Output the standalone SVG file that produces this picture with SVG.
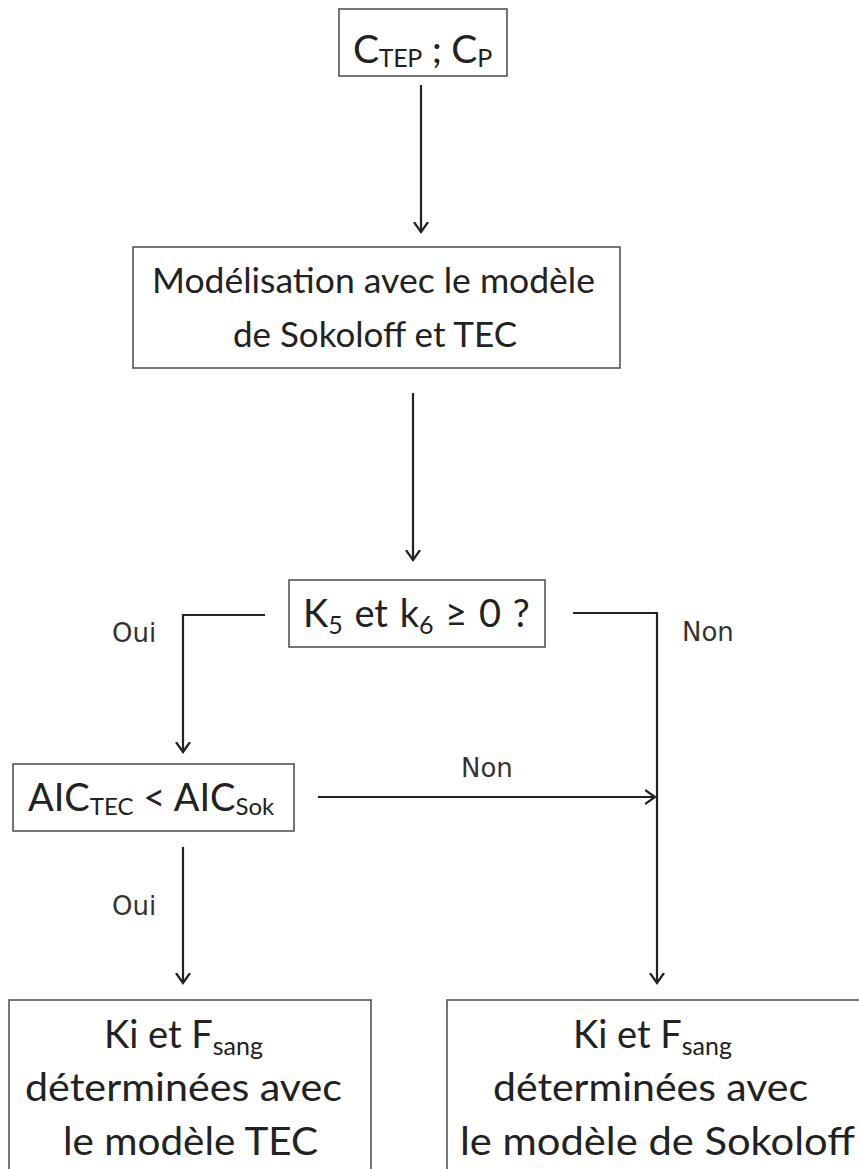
<svg xmlns="http://www.w3.org/2000/svg" width="859" height="1169" viewBox="0 0 859 1169">
<style>
.box{fill:#fff;stroke:#555;stroke-width:1.6}
.t{font-family:Lato,"Open Sans","Liberation Sans",sans-serif;fill:#222}
.lbl{font-family:"DejaVu Sans","Liberation Sans",sans-serif;font-size:26px;fill:#333}
.c{fill:none;stroke:#222;stroke-width:2.2}
</style>
<defs>
<marker id="ah" viewBox="0 0 20 20" markerWidth="20" markerHeight="20" refX="10" refY="10" orient="auto" markerUnits="userSpaceOnUse">
<path d="M0,3 L10,10 L0,17" fill="none" stroke="#222" stroke-width="2.2"/>
</marker>
</defs>
<rect width="859" height="1169" fill="#fff"/>
<g id="connectors">
<line class="c" x1="421" y1="85" x2="421" y2="232" marker-end="url(#ah)"/>
<line class="c" x1="413" y1="393" x2="413" y2="560" marker-end="url(#ah)"/>
<polyline class="c" points="265,615 183,615 183,752" marker-end="url(#ah)"/>
<polyline class="c" points="573,613 657,613 657,983" marker-end="url(#ah)"/>
<line class="c" x1="318" y1="797" x2="655" y2="797" marker-end="url(#ah)"/>
<line class="c" x1="183" y1="847" x2="183" y2="983" marker-end="url(#ah)"/>
<text class="lbl" x="112" y="642">Oui</text>
<text class="lbl" x="682" y="641">Non</text>
<text class="lbl" x="461" y="777">Non</text>
<text class="lbl" x="112" y="915">Oui</text>
</g>
<g id="n1">
<rect class="box" x="339" y="9" width="168" height="67"/>
<text class="t" x="353" y="63" font-size="39" letter-spacing="-0.3">C<tspan font-size="25" dy="4">TEP</tspan><tspan dy="-4"> ; C</tspan><tspan font-size="25" dy="4">P</tspan></text>
</g>
<g id="n2">
<rect class="box" x="133" y="247" width="487" height="121"/>
<text class="t" x="152" y="293" font-size="35" textLength="443" lengthAdjust="spacingAndGlyphs">Modélisation avec le modèle</text>
<text class="t" x="233" y="347" font-size="35" textLength="284" lengthAdjust="spacingAndGlyphs">de Sokoloff et TEC</text>
</g>
<g id="n3">
<rect class="box" x="289" y="580" width="256" height="67"/>
<text class="t" x="303" y="627" font-size="38" word-spacing="2">K<tspan font-size="25" dy="7">5</tspan><tspan dy="-7"> et k</tspan><tspan font-size="25" dy="7">6</tspan><tspan dy="-7"> ≥ 0 ?</tspan></text>
</g>
<g id="n4">
<rect class="box" x="13" y="764" width="281" height="67"/>
<text class="t" x="28" y="811" font-size="38">AIC<tspan font-size="24" dy="4">TEC</tspan><tspan dy="-4"> &lt; AIC</tspan><tspan font-size="24" dy="4">Sok</tspan></text>
</g>
<g id="n5">
<rect class="box" x="9" y="1000" width="362" height="200"/>
<text class="t" x="104" y="1048" font-size="38">Ki et F<tspan font-size="25" dy="7">sang</tspan></text>
<text class="t" x="25" y="1101" font-size="38" textLength="317" lengthAdjust="spacingAndGlyphs">déterminées avec</text>
<text class="t" x="63" y="1155" font-size="38" textLength="255" lengthAdjust="spacingAndGlyphs">le modèle TEC</text>
</g>
<g id="n6">
<rect class="box" x="447" y="1000" width="430" height="200"/>
<text class="t" x="573" y="1048" font-size="38">Ki et F<tspan font-size="25" dy="7">sang</tspan></text>
<text class="t" x="493" y="1101" font-size="38" textLength="315" lengthAdjust="spacingAndGlyphs">déterminées avec</text>
<text class="t" x="460" y="1155" font-size="38" textLength="395" lengthAdjust="spacingAndGlyphs">le modèle de Sokoloff</text>
</g>
</svg>
